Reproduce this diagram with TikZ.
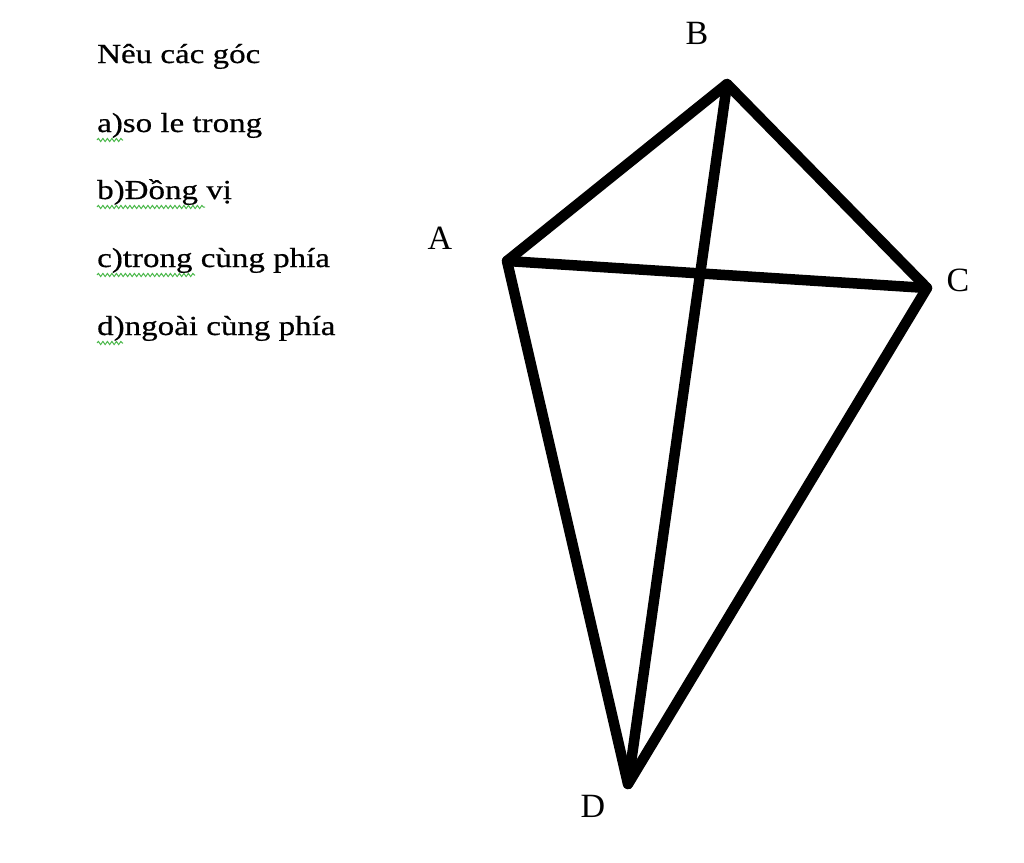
\documentclass[tikz,border=0pt]{standalone}
\usepackage{fontspec}
\setmainfont{Liberation Serif}
\newfontfamily\txtfont[FakeStretch=1.2,FakeBold=0.6]{Liberation Serif}
\usetikzlibrary{decorations.pathmorphing}
\begin{document}
\begin{tikzpicture}[x=1pt,y=1pt,
  edge/.style={line width=10.5pt,line cap=round,line join=round},
  ptlabel/.style={font=\fontsize{34}{34}\selectfont,inner sep=0pt},
  item/.style={anchor=base west,inner sep=0pt,font=\txtfont\fontsize{27.5}{27.5}\selectfont},
  squiggle/.style={draw=green!60!black!70,line width=1pt,decorate,decoration={snake,amplitude=1.6pt,segment length=4.5pt}}]
\useasboundingbox (0,0) rectangle (1024,-862);
\coordinate (A) at (507,-261);
\coordinate (B) at (727,-84);
\coordinate (C) at (927,-288);
\coordinate (D) at (628,-784);
\draw[edge] (A) -- (B) -- (C);
\draw[edge] (A) -- (C);
\draw[edge] (B) -- (D);
\draw[edge] (A) -- (D) -- (C);
\node[ptlabel] (lA) at (440,-238) {A};
\node[ptlabel] (lB) at (697,-33) {B};
\node[ptlabel] (lC) at (958,-280) {C};
\node[ptlabel] (lD) at (593,-806) {D};
\node[item] (t0) at (97,-63) {Nêu các góc};
\node[item] (t1) at (97,-132) {a)so le trong};
\node[item] (t2) at (97,-199) {b)Đồng vị};
\node[item] (t3) at (97,-267) {c)trong cùng phía};
\node[item] (t4) at (97,-335) {d)ngoài cùng phía};
\coordinate (s1a) at (97,-140); \coordinate (s1b) at (123,-140);
\coordinate (s2a) at (97,-207); \coordinate (s2b) at (205,-207);
\coordinate (s3a) at (97,-275); \coordinate (s3b) at (195,-275);
\coordinate (s4a) at (97,-343); \coordinate (s4b) at (123,-343);
\draw[squiggle] (s1a) -- (s1b);
\draw[squiggle] (s2a) -- (s2b);
\draw[squiggle] (s3a) -- (s3b);
\draw[squiggle] (s4a) -- (s4b);
\end{tikzpicture}
\end{document}
